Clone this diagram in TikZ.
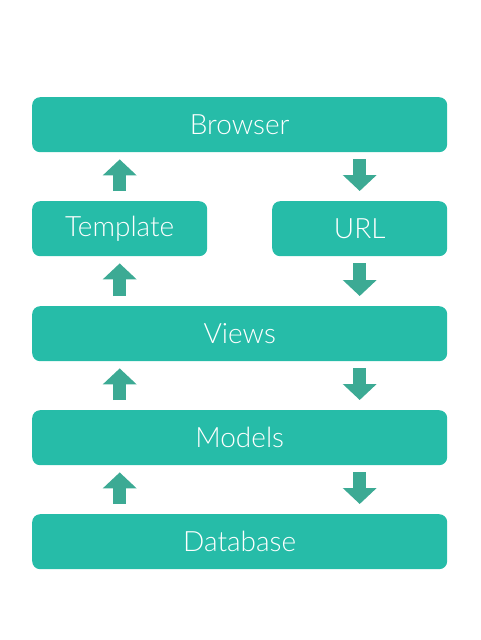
\documentclass[tikz,border=0pt]{standalone}
\usepackage{fontspec}
\setmainfont{Lato Light}
\usetikzlibrary{arrows.meta}
\definecolor{boxteal}{HTML}{26BCA8}
\definecolor{arrowteal}{HTML}{3CAA94}
\tikzset{
  layer/.style={fill=boxteal, rounded corners=8pt, text=white,
    font=\fontsize{28}{32}\selectfont, minimum height=55pt,
    inner sep=0pt, anchor=north west},
  wide/.style={layer, minimum width=415pt},
  half/.style={layer, minimum width=175pt},
  flow/.style={draw=arrowteal, line width=13pt,
    -{Triangle[width=33pt,length=16pt]}},
  upflow/.style={flow, shorten <=10pt, shorten >=7pt},
  downflow/.style={flow, shorten <=7pt, shorten >=10pt}
}
\begin{document}
\begin{tikzpicture}[x=1pt,y=-1pt]
\useasboundingbox (0,0) rectangle (480,640);
% layers of the request cycle
\node[wide] (browser) at (32,97) {Browser};
\node[half] (template) at (32,201) {Template};
\node[half] (url) at (272,201) {URL};
\node[wide] (views) at (32,306) {Views};
\node[wide] (models) at (32,410) {Models};
\node[wide] (database) at (32,514) {Database};
% upward flow on the left
\draw[upflow] (template.north) -- (template.north |- browser.south);
\draw[upflow] (template.north |- views.north) -- (template.south);
\draw[upflow] (template.north |- models.north) -- (template.north |- views.south);
\draw[upflow] (template.north |- database.north) -- (template.north |- models.south);
% downward flow on the right
\draw[downflow] (url.north |- browser.south) -- (url.north);
\draw[downflow] (url.south) -- (url.south |- views.north);
\draw[downflow] (url.south |- views.south) -- (url.south |- models.north);
\draw[downflow] (url.south |- models.south) -- (url.south |- database.north);
\end{tikzpicture}
\end{document}
